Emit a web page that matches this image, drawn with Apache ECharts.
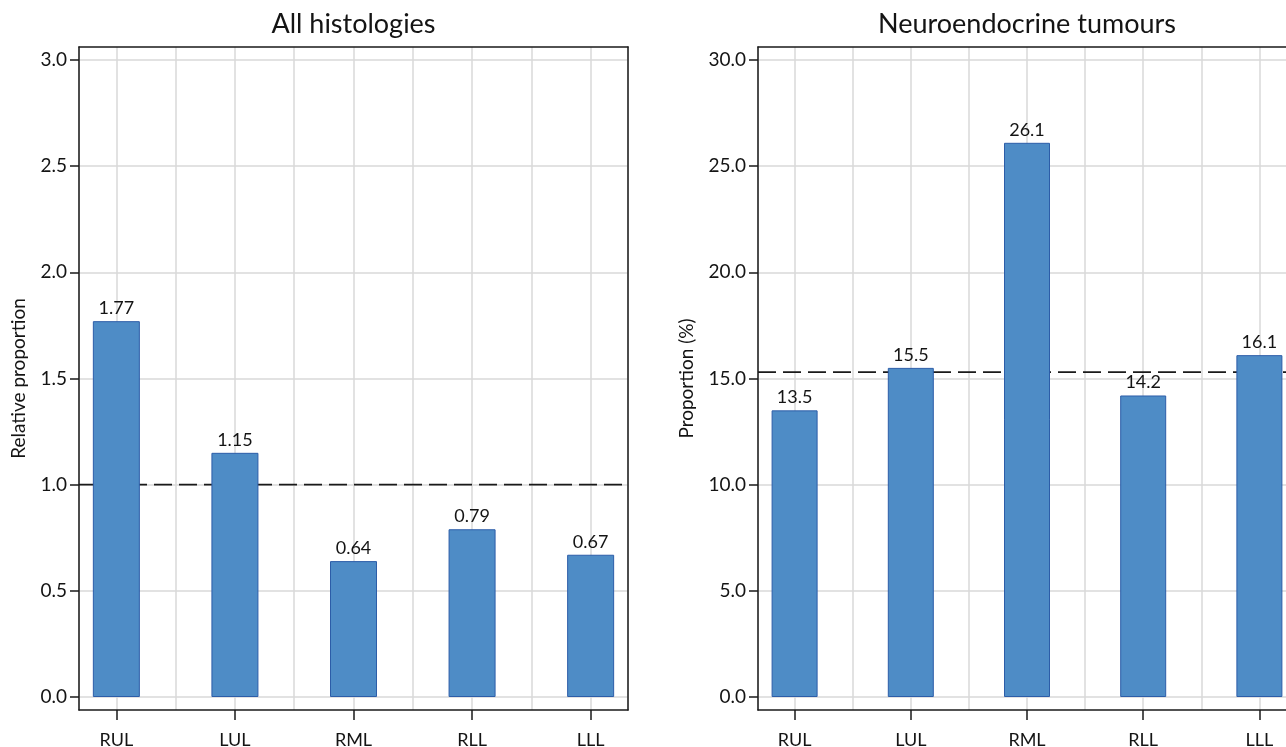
<!DOCTYPE html>
<html>
<head>
<meta charset="utf-8">
<script src="https://cdn.jsdelivr.net/npm/echarts@6/dist/echarts.min.js"></script>
<style>
html,body{margin:0;padding:0;background:#fff;}
#chart{width:1286px;height:747px;}
</style>
</head>
<body>
<div id="chart"></div>
<script>
// ---- data ----
const categories = ['RUL', 'LUL', 'RML', 'RLL', 'LLL'];
const relativeValues = [1.77, 1.15, 0.64, 0.79, 0.67];
const neuroValues = [13.5, 15.5, 26.1, 14.2, 16.1];
const relativeRef = 1.0;
const neuroRef = 15.3;
const relativeTicks = [0, 0.5, 1.0, 1.5, 2.0, 2.5, 3.0];
const neuroTicks = [0, 5, 10, 15, 20, 25, 30];
const titles = ['All histologies', 'Neuroendocrine tumours'];
const yNames = ['Relative proportion', 'Proportion (%)'];

// ---- style / layout ----
const FONT = 'Lato';
const TXT = '#141414';
const FRAME = '#1a1a1a';
const GRIDC = '#d9d9d9';
const BAR = '#4e8cc6';
const BAR_BORDER = '#2c5da8';
const XPAD = 0.315;
const YPAD_FRAC = 0.0204;

const panels = [
  {grid: {left: 79, top: 47, width: 549, bottom: 37, outerBoundsMode: 'none', containLabel: false}, values: relativeValues, ref: relativeRef, ticks: relativeTicks, dec: 2, barWidth: 47, center: 353.5, nameGap: 51},
  {grid: {left: 758, top: 47, width: 538, bottom: 37, outerBoundsMode: 'none', containLabel: false}, values: neuroValues, ref: neuroRef, ticks: neuroTicks, dec: 1, barWidth: 46, center: 1027, nameGap: 62}
];

const grid = [], xAxis = [], yAxis = [], series = [], title = [];
const xIdx = categories.map((c, i) => i);
const xMin = -XPAD, xMax = categories.length - 1 + XPAD;

panels.forEach((p, k) => {
  grid.push(p.grid);
  const tmax = p.ticks[p.ticks.length - 1];
  const step = p.ticks[1] - p.ticks[0];
  const ypad = tmax * YPAD_FRAC;
  const lineStyle = {color: FRAME, width: 1.5};
  title.push({
    text: titles[k], left: p.center, top: 11, textAlign: 'center', padding: 0,
    textStyle: {fontFamily: FONT, fontSize: 27, fontWeight: 'normal', color: TXT}
  });
  // main x axis (labels, ticks)
  xAxis.push({
    type: 'value', gridIndex: k, min: xMin, max: xMax, minInterval: 1, maxInterval: 1,
    position: 'bottom',
    axisLine: {show: true, onZero: false, lineStyle},
    axisTick: {show: true, length: 10, lineStyle, customValues: xIdx},
    axisLabel: {
      customValues: xIdx, margin: 21, fontFamily: FONT, fontSize: 18, color: TXT,
      formatter: v => { const r = Math.round(v); return Math.abs(r - v) < 1e-6 && categories[r] ? categories[r] : ''; }
    },
    splitLine: {show: false}
  });
  // top x axis (frame + half-step grid lines)
  xAxis.push({
    type: 'value', gridIndex: k, min: xMin, max: xMax, minInterval: 0.5, maxInterval: 0.5,
    position: 'top',
    axisLine: {show: true, onZero: false, lineStyle},
    axisTick: {show: false}, axisLabel: {show: false},
    splitLine: {show: true, lineStyle: {color: GRIDC, width: 1.5}}
  });
  yAxis.push({
    type: 'value', gridIndex: k, min: -ypad, max: tmax + ypad, minInterval: step, maxInterval: step,
    position: 'left',
    name: yNames[k], nameLocation: 'middle', nameGap: p.nameGap,
    nameTextStyle: {fontFamily: FONT, fontSize: 19, color: TXT},
    axisLine: {show: true, onZero: false, lineStyle},
    axisTick: {show: true, length: 9, lineStyle, customValues: p.ticks},
    axisLabel: {
      customValues: p.ticks, margin: 12, fontFamily: FONT, fontSize: 19, color: TXT,
      formatter: v => p.ticks.some(t => Math.abs(t - v) < 1e-6) ? v.toFixed(1) : ''
    },
    splitLine: {show: true, lineStyle: {color: GRIDC, width: 1.5}}
  });
  yAxis.push({
    type: 'value', gridIndex: k, min: -ypad, max: tmax + ypad, position: 'right',
    axisLine: {show: true, onZero: false, lineStyle},
    axisTick: {show: false}, axisLabel: {show: false}, splitLine: {show: false}
  });
  series.push({
    type: 'line', xAxisIndex: 2 * k, yAxisIndex: 2 * k, z: 1, symbol: 'none', silent: true,
    data: [[xMin, p.ref], [xMax, p.ref]],
    lineStyle: {color: FRAME, width: 1.6, type: [18, 7]}
  });
  series.push({
    type: 'bar', xAxisIndex: 2 * k, yAxisIndex: 2 * k, z: 2, barWidth: p.barWidth,
    data: p.values.map((v, i) => [i, v]),
    itemStyle: {color: BAR, borderColor: BAR_BORDER, borderWidth: 1},
    label: {
      show: true, position: 'top', distance: 4, fontFamily: FONT, fontSize: 18, color: TXT,
      formatter: q => q.value[1].toFixed(p.dec)
    }
  });
});

const chart = echarts.init(document.getElementById('chart'));
chart.setOption({animation: false, backgroundColor: '#fff', title, grid, xAxis, yAxis, series});
</script>
</body>
</html>
